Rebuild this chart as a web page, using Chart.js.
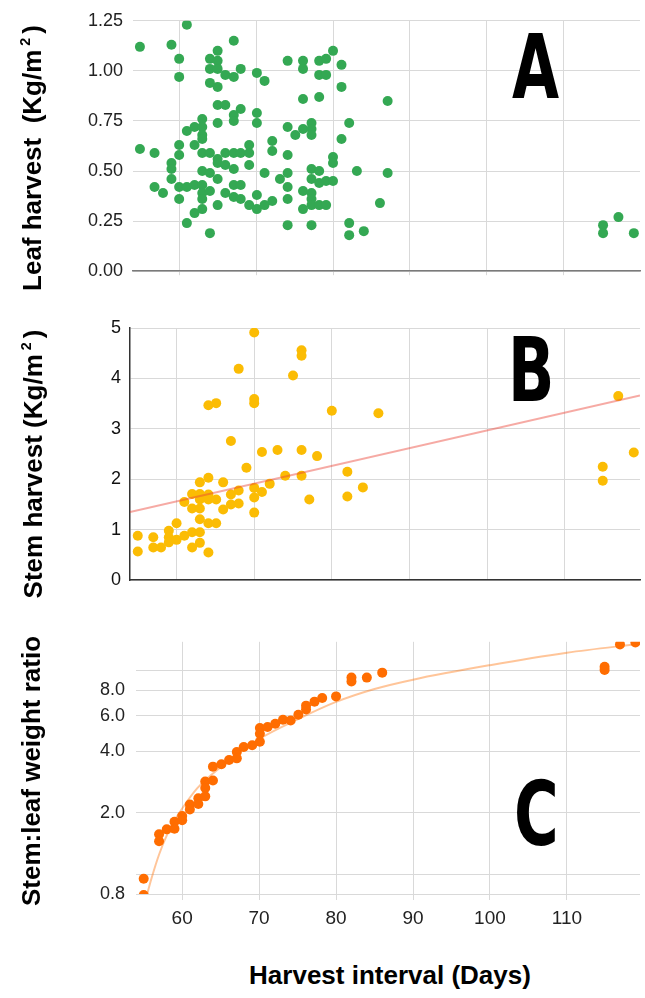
<!DOCTYPE html>
<html><head><meta charset="utf-8">
<script src="https://cdn.jsdelivr.net/npm/chart.js@4.4.1/dist/chart.umd.min.js"></script>
<style>
html,body{margin:0;padding:0;background:#fff;}
body{width:645px;height:998px;position:relative;overflow:hidden;font-family:'Liberation Sans',Arial,sans-serif;}
canvas{position:absolute;left:0;}
.yt{position:absolute;transform:translate(-50%,-50%) rotate(-90deg);white-space:nowrap;font-weight:bold;font-size:26px;color:#000;line-height:1;}
.yt sup{font-size:0.55em;vertical-align:0.8em;margin:0 4px;line-height:0;}
.xt{position:absolute;transform:translate(-50%,-50%);white-space:nowrap;font-weight:bold;font-size:26px;color:#000;line-height:1;}
.pl{position:absolute;font-family:'Liberation Sans Narrow','DejaVu Sans Condensed',sans-serif;font-weight:bold;font-size:89px;line-height:1;transform:scaleX(0.76);transform-origin:left top;color:#000;}
</style></head><body>
<canvas id="cA" width="645" height="292" style="top:0px"></canvas>
<canvas id="cB" width="645" height="300" style="top:300px"></canvas>
<canvas id="cC" width="645" height="330" style="top:620px"></canvas>
<div class="yt" style="left:32px;top:158px">Leaf harvest&nbsp; (Kg/m<sup>2</sup>)</div>
<div class="yt" style="left:33px;top:464px">Stem harvest (Kg/m<sup>2</sup>)</div>
<div class="yt" style="left:31px;top:771px">Stem:leaf weight ratio</div>
<div class="xt" style="left:390px;top:975px">Harvest interval (Days)</div>
<div class="pl" style="left:512px;top:23px">A</div>
<div class="pl" style="left:508px;top:326px">B</div>
<div class="pl" style="left:514px;top:770px">C</div>
<script>
// ---- tick definitions ----
const xTicks = [60, 70, 80, 90, 100, 110];
const leafTicks = [0, 0.25, 0.5, 0.75, 1, 1.25];
const stemTicks = [0, 1, 2, 3, 4, 5];
const ratioTicks = [0.8, 1, 2, 4, 6, 8, 10];
const ratioTickLabels = ['0.8', '', '2.0', '4.0', '6.0', '8.0', ''];

// ---- panel A: leaf harvest ----
const leafDays = [54.9,54.9,56.8,56.8,57.9,59.0,59.0,59.0,59.0,60.0,60.0,60.0,60.0,60.0,60.0,61.0,61.0,61.0,61.0,62.0,62.0,62.0,62.0,
63.0,63.0,63.0,63.0,63.0,63.0,63.0,63.0,63.0,63.0,64.0,64.0,64.0,64.0,64.0,64.0,64.0,65.0,65.0,65.0,65.0,65.0,65.0,65.0,65.0,65.0,65.0,
66.0,66.0,66.0,66.0,66.0,67.1,67.1,67.1,67.1,67.1,67.1,67.1,67.1,68.0,68.0,68.0,68.0,68.0,69.1,69.1,69.1,69.1,70.1,70.1,70.1,70.1,70.1,
71.1,71.1,71.1,72.1,72.1,72.1,73.1,74.1,74.1,74.1,74.1,74.1,74.1,74.1,75.1,76.1,76.1,76.1,76.1,76.1,76.1,
77.2,77.2,77.2,77.2,77.2,77.2,77.2,77.2,77.2,78.2,78.2,78.2,78.2,78.2,78.2,79.1,79.1,79.1,79.1,
80.0,81.1,81.1,87.1,82.1,81.1,80.0,80.0,83.1,87.1,80.0,86.1,82.1,82.1,84.0,115.1,115.1,117.1,119.1];
const leafVals = [1.12,0.61,0.59,0.42,0.39,1.13,0.54,0.51,0.46,1.06,0.97,0.63,0.58,0.42,0.36,1.23,0.70,0.42,0.24,0.72,0.63,0.43,0.29,
0.76,0.72,0.68,0.66,0.59,0.50,0.43,0.39,0.36,0.31,1.06,1.01,0.94,0.59,0.49,0.40,0.19,1.10,1.05,1.01,0.92,0.83,0.74,0.56,0.54,0.46,0.33,
0.98,0.83,0.59,0.53,0.39,1.15,0.97,0.78,0.75,0.59,0.51,0.43,0.37,1.01,0.81,0.59,0.43,0.36,0.63,0.59,0.53,0.33,0.99,0.79,0.74,0.38,0.31,
0.95,0.49,0.33,0.65,0.60,0.35,0.46,1.05,0.72,0.58,0.49,0.42,0.36,0.23,0.68,1.05,1.01,0.86,0.71,0.40,0.31,
0.74,0.71,0.68,0.51,0.46,0.39,0.36,0.33,0.23,1.05,0.98,0.87,0.50,0.44,0.33,1.06,0.98,0.45,0.33,
1.10,1.03,0.92,0.85,0.74,0.66,0.57,0.54,0.50,0.49,0.45,0.34,0.24,0.18,0.20,0.23,0.19,0.27,0.19];

// ---- panel B: stem harvest ----
const stemDays = [55.0,55.0,57.0,57.0,58.0,59.0,59.0,59.0,60.0,60.0,61.0,61.0,62.0,62.0,62.0,62.0,
63.0,63.0,63.0,63.0,63.0,63.0,63.0,64.1,64.1,64.1,64.1,64.1,64.1,65.1,65.1,65.1,66.0,66.0,67.0,67.0,67.0,
68.0,68.0,68.0,69.0,70.0,70.0,70.0,70.0,70.0,70.0,71.0,71.0,72.0,73.0,74.0,75.0,76.1,76.1,76.1,76.1,77.1,78.1,
80.0,82.0,82.0,84.0,86.0,114.9,114.9,116.9,118.9];
const stemVals = [0.88,0.57,0.85,0.65,0.65,0.98,0.85,0.75,1.13,0.80,1.55,0.88,1.71,1.42,0.95,0.65,
1.94,1.71,1.60,1.42,1.21,0.95,0.74,3.47,2.03,1.70,1.60,1.13,0.55,3.51,1.60,1.13,1.94,1.40,2.76,1.70,1.50,
4.19,1.78,1.52,2.23,4.91,3.59,3.51,1.83,1.64,1.34,2.54,1.75,1.91,2.58,2.07,4.06,4.56,4.45,2.58,2.07,1.60,2.46,
3.36,2.15,1.66,1.84,3.31,2.25,1.97,3.65,2.53];
const stemTrendDays = [54, 119.7];
const stemTrendVals = [1.35, 3.66];

// ---- panel C: stem:leaf ratio ----
const ratioDays = [55.0,55.0,57.0,57.0,58.0,59.0,59.0,60.0,60.0,61.0,61.0,62.1,62.1,63.0,63.0,63.0,64.0,64.0,65.1,66.1,67.1,67.1,
68.0,69.1,70.1,70.1,70.1,71.1,72.1,73.1,74.1,75.1,76.1,76.1,77.2,78.2,80.0,82.0,82.0,84.0,86.0,114.9,114.9,116.9,118.9];
const ratioVals = [0.95,0.79,1.57,1.45,1.66,1.81,1.67,1.93,1.84,2.20,2.08,2.36,2.21,2.85,2.65,2.41,3.37,2.88,3.46,3.63,3.98,3.70,
4.21,4.29,5.21,4.89,4.46,5.27,5.47,5.72,5.68,6.05,6.42,6.71,7.02,7.31,7.45,9.21,8.81,9.21,9.74,10.4,10.04,13.4,13.7];
const ratioTrendDays = [55.3,56,57,58,59,60,62,65,70,75,80,85,90,100,110,119.5];
const ratioTrendVals = [0.76,0.95,1.25,1.55,1.83,2.1,2.65,3.35,4.6,5.75,7.0,8.1,9.0,10.6,12.2,13.5];

function pts(xs, ys) { return xs.map((x, i) => ({ x: x, y: ys[i] })); }
function fixedTicks(arr) { return s => { s.ticks = arr.map(v => ({ value: v })); }; }

const GRID = '#d9d9d9';
const YFONT = { family: '"Liberation Sans", Arial, sans-serif', size: 18 };
const XFONT = { family: '"Liberation Sans", Arial, sans-serif', size: 19 };
const base = {
  responsive: false, animation: false, devicePixelRatio: 1, events: [],
  plugins: { legend: { display: false }, tooltip: { enabled: false } }
};

new Chart(document.getElementById('cA'), {
  type: 'scatter',
  data: { datasets: [{ data: pts(leafDays, leafVals), backgroundColor: '#34a853', borderWidth: 0, pointRadius: 5, pointHoverRadius: 5 }] },
  options: Object.assign({}, base, {
    layout: { padding: { top: 20, right: 4, left: 0, bottom: 0 } },
    scales: {
      x: { type: 'linear', min: 54, max: 119.9, afterBuildTicks: fixedTicks(xTicks), ticks: { display: false },
           grid: { color: GRID, tickLength: 4 }, border: { display: true, color: '#7a7a7a', width: 1.5 },
           afterFit: s => { s.height = 16; } },
      y: { type: 'linear', min: 0, max: 1.25, afterBuildTicks: fixedTicks(leafTicks),
           ticks: { font: YFONT, color: '#222', padding: 10, callback: v => Number(v).toFixed(2) },
           grid: { color: GRID, drawTicks: false }, border: { display: false },
           afterFit: s => { s.width = 133; } }
    }
  })
});

new Chart(document.getElementById('cB'), {
  type: 'scatter',
  data: { datasets: [
    { type: 'line', data: pts(stemTrendDays, stemTrendVals), borderColor: 'rgba(234,67,53,0.45)', borderWidth: 2, pointRadius: 0, fill: false, clip: 0 },
    { data: pts(stemDays, stemVals), backgroundColor: '#fbbc04', borderWidth: 0, pointRadius: 5, pointHoverRadius: 5 }
  ] },
  options: Object.assign({}, base, {
    layout: { padding: { top: 28, right: 2, left: 0, bottom: 0 } },
    scales: {
      x: { type: 'linear', min: 54, max: 119.7, afterBuildTicks: fixedTicks(xTicks), ticks: { display: false },
           grid: { color: GRID, drawTicks: false }, border: { display: true, color: '#333', width: 1.5 },
           afterFit: s => { s.height = 17; } },
      y: { type: 'linear', min: 0, max: 5, afterBuildTicks: fixedTicks(stemTicks),
           ticks: { font: YFONT, color: '#111', padding: 9, callback: v => String(v) },
           grid: { color: GRID, drawTicks: false }, border: { display: true, color: '#333', width: 1.5 },
           afterFit: s => { s.width = 130; } }
    }
  })
});

new Chart(document.getElementById('cC'), {
  type: 'scatter',
  data: { datasets: [
    { type: 'line', data: pts(ratioTrendDays, ratioTrendVals), borderColor: 'rgba(255,109,1,0.4)', borderWidth: 2, pointRadius: 0, fill: false, cubicInterpolationMode: 'monotone', clip: 0 },
    { data: pts(ratioDays, ratioVals), backgroundColor: '#ff6d01', borderWidth: 0, pointRadius: 5, pointHoverRadius: 5, clip: 0 }
  ] },
  options: Object.assign({}, base, {
    layout: { padding: { top: 19, right: 4, left: 0, bottom: 0 } },
    scales: {
      x: { type: 'linear', min: 54, max: 119.5, afterBuildTicks: fixedTicks(xTicks),
           ticks: { font: XFONT, color: '#222', padding: 7, callback: v => String(v) },
           grid: { color: GRID, tickLength: 6 }, border: { display: false },
           afterFit: s => { s.height = 56; } },
      y: { type: 'logarithmic', min: 0.8, max: 13.8, afterBuildTicks: fixedTicks(ratioTicks),
           ticks: { font: YFONT, color: '#222', padding: 11, callback: (v, i) => ratioTickLabels[i] },
           grid: { color: GRID, drawTicks: false }, border: { display: false },
           afterFit: s => { s.width = 136; } }
    }
  })
});
</script>
</body></html>
